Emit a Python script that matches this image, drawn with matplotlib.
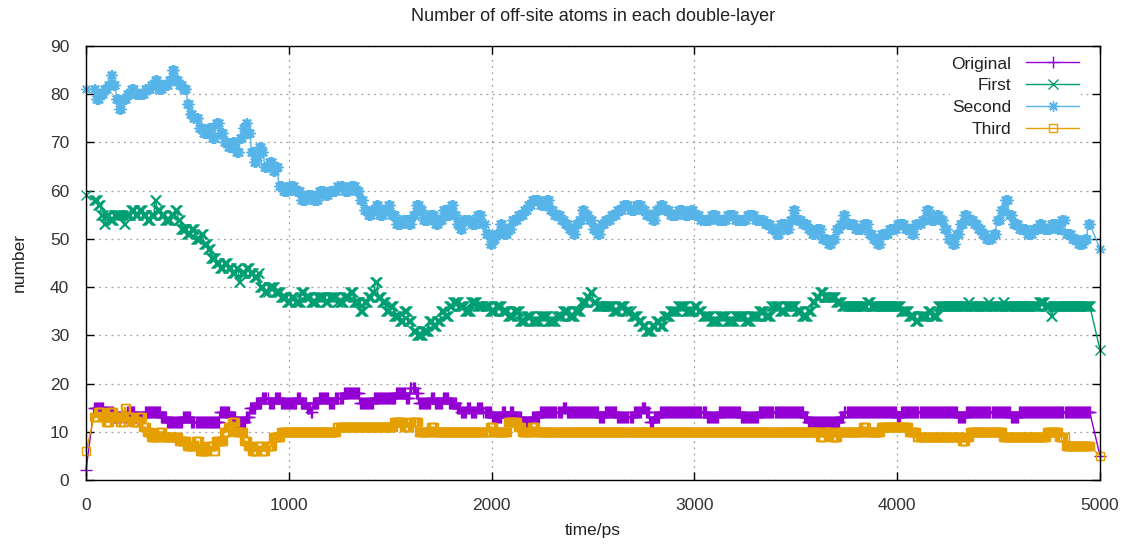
import numpy as np
import matplotlib
matplotlib.use("Agg")
import matplotlib.pyplot as plt

plt.rcParams['font.family'] = ['Liberation Sans', 'DejaVu Sans']

# Sampling times of the trajectory (ps)
t_first = 0
t_dense_start, t_dense_stop, t_step = 40, 4950, 5
t_last = 5000

# Each series: (time from which value holds, value)
original = [(0, 2), (40, 15), (90, 14), (140, 13), (200, 14), (240, 13), (290, 14), (370, 13),
            (400, 12), (480, 13), (520, 12), (660, 14), (710, 13), (740, 12), (790, 13),
            (810, 15), (840, 16), (870, 17), (900, 16), (930, 17), (960, 16), (1040, 17),
            (1060, 16), (1090, 15), (1110, 14), (1120, 16), (1150, 17), (1200, 16), (1230, 17),
            (1270, 18), (1350, 16), (1420, 17), (1530, 18), (1580, 17), (1600, 19), (1625, 18),
            (1640, 16), (1700, 17), (1720, 16), (1760, 17), (1790, 16), (1830, 15), (1850, 14),
            (1880, 15), (1900, 14), (1930, 15), (1960, 14), (2000, 13), (2050, 14), (2070, 13),
            (2090, 14), (2110, 13), (2150, 12), (2200, 13), (2240, 14), (2350, 15), (2370, 14),
            (2530, 13), (2560, 14), (2620, 13), (2700, 14), (2740, 15), (2760, 14), (2780, 12),
            (2800, 13), (2830, 14), (3060, 13), (3120, 14), (3230, 13), (3320, 14), (3540, 13),
            (3560, 12), (3720, 13), (3740, 14), (4000, 13), (4020, 14), (4300, 13), (4340, 14),
            (4560, 13), (4600, 14), (5000, 5)]

first = [(0, 59), (40, 58), (60, 57), (75, 55), (90, 53), (100, 55), (120, 54), (140, 55),
         (185, 53), (195, 55), (220, 56), (240, 55), (260, 56), (280, 55), (300, 54), (320, 55),
         (340, 58), (350, 56), (370, 55), (390, 54), (420, 55), (440, 56), (455, 54), (470, 52),
         (500, 51), (520, 52), (540, 50), (565, 51), (580, 49), (600, 48), (615, 46), (640, 45),
         (660, 44), (680, 45), (700, 44), (720, 43), (740, 44), (755, 41), (765, 43), (790, 44),
         (810, 43), (830, 42), (850, 43), (860, 40), (880, 39), (900, 40), (930, 39), (960, 38),
         (990, 37), (1010, 38), (1030, 37), (1060, 39), (1080, 38), (1110, 37), (1140, 38),
         (1180, 37), (1200, 38), (1240, 37), (1270, 38), (1300, 39), (1320, 37), (1350, 35),
         (1370, 37), (1390, 38), (1410, 39), (1425, 41), (1440, 38), (1460, 37), (1480, 35),
         (1500, 36), (1520, 34), (1550, 33), (1570, 35), (1590, 33), (1610, 31), (1630, 30),
         (1660, 31), (1690, 33), (1710, 32), (1730, 33), (1750, 35), (1770, 34), (1790, 36),
         (1810, 37), (1840, 36), (1870, 35), (1900, 37), (1930, 36), (1990, 35), (2020, 36),
         (2050, 35), (2080, 34), (2110, 35), (2140, 33), (2170, 34), (2200, 33), (2240, 34),
         (2280, 33), (2320, 34), (2350, 35), (2380, 34), (2410, 35), (2440, 37), (2470, 38),
         (2485, 39), (2500, 37), (2520, 36), (2600, 35), (2630, 36), (2660, 35), (2690, 34),
         (2720, 33), (2740, 32), (2760, 31), (2790, 32), (2810, 33), (2830, 32), (2850, 34),
         (2880, 35), (2920, 36), (2960, 35), (3000, 36), (3020, 35), (3040, 34), (3080, 33),
         (3120, 34), (3160, 33), (3200, 34), (3250, 33), (3280, 34), (3320, 35), (3350, 34),
         (3380, 36), (3420, 35), (3450, 36), (3500, 35), (3530, 34), (3560, 35), (3580, 37),
         (3600, 38), (3620, 39), (3640, 38), (3700, 37), (3730, 36), (3850, 37), (3870, 36),
         (4020, 35), (4060, 34), (4090, 33), (4110, 34), (4150, 35), (4170, 34), (4200, 36),
         (4350, 37), (4360, 36), (4450, 37), (4460, 36), (4520, 37), (4530, 36), (4700, 37),
         (4730, 36), (4760, 34), (4770, 36), (5000, 27)]

second = [(0, 81), (50, 79), (70, 80), (90, 81), (110, 82), (125, 84), (135, 82), (150, 79),
          (165, 77), (180, 79), (200, 80), (220, 81), (240, 80), (290, 81), (320, 82), (340, 83),
          (355, 81), (380, 82), (410, 83), (425, 85), (440, 83), (460, 82), (480, 81), (500, 78),
          (515, 76), (530, 75), (555, 73), (575, 72), (600, 73), (620, 71), (640, 74), (660, 72),
          (680, 70), (700, 69), (720, 70), (740, 68), (760, 71), (775, 73), (790, 74), (800, 72),
          (815, 68), (830, 66), (845, 67), (855, 69), (870, 68), (880, 65), (900, 66), (920, 64),
          (935, 65), (950, 61), (970, 60), (1000, 61), (1030, 60), (1060, 58), (1090, 59),
          (1120, 58), (1150, 60), (1180, 59), (1200, 60), (1240, 61), (1270, 60), (1300, 61),
          (1330, 60), (1350, 58), (1370, 56), (1390, 55), (1410, 56), (1430, 57), (1445, 55),
          (1470, 56), (1490, 57), (1505, 55), (1530, 53), (1560, 54), (1590, 53), (1610, 55),
          (1625, 57), (1645, 56), (1660, 54), (1690, 55), (1720, 53), (1740, 54), (1760, 56),
          (1780, 55), (1800, 57), (1815, 55), (1830, 53), (1845, 52), (1860, 54), (1900, 53),
          (1930, 55), (1955, 53), (1970, 51), (1990, 49), (2005, 50), (2020, 51), (2040, 53),
          (2055, 51), (2080, 52), (2100, 54), (2130, 55), (2160, 56), (2180, 57), (2200, 58),
          (2240, 57), (2270, 58), (2290, 56), (2310, 55), (2340, 54), (2360, 53), (2380, 52),
          (2400, 51), (2415, 53), (2430, 54), (2445, 56), (2460, 55), (2480, 54), (2500, 52),
          (2520, 51), (2540, 53), (2560, 54), (2590, 55), (2620, 56), (2650, 57), (2680, 56),
          (2710, 57), (2740, 56), (2760, 55), (2790, 54), (2810, 56), (2830, 57), (2850, 56),
          (2880, 55), (2920, 56), (2950, 55), (2980, 56), (3000, 55), (3030, 54), (3080, 55),
          (3110, 54), (3160, 55), (3200, 54), (3260, 55), (3300, 54), (3350, 53), (3380, 52),
          (3400, 51), (3420, 53), (3450, 52), (3470, 54), (3485, 56), (3500, 54), (3530, 53),
          (3560, 52), (3580, 51), (3600, 52), (3630, 50), (3660, 49), (3680, 50), (3700, 52),
          (3720, 53), (3735, 55), (3750, 53), (3790, 52), (3830, 53), (3860, 51), (3880, 50),
          (3900, 49), (3920, 51), (3960, 52), (4000, 53), (4040, 52), (4070, 51), (4090, 53),
          (4120, 54), (4140, 56), (4160, 54), (4190, 55), (4210, 54), (4230, 52), (4250, 50),
          (4270, 49), (4290, 51), (4310, 53), (4330, 55), (4350, 54), (4380, 53), (4400, 52),
          (4420, 51), (4440, 50), (4470, 51), (4490, 54), (4510, 56), (4530, 58), (4550, 55),
          (4570, 53), (4600, 52), (4640, 51), (4670, 52), (4700, 53), (4720, 52), (4760, 53),
          (4790, 52), (4810, 54), (4830, 51), (4860, 50), (4890, 49), (4920, 50), (4940, 53),
          (4955, 50), (5000, 48)]

third = [(0, 6), (40, 13), (60, 14), (80, 13), (100, 12), (120, 14), (140, 13), (170, 12),
         (190, 15), (200, 13), (230, 12), (260, 13), (280, 11), (300, 10), (320, 9), (360, 10),
         (380, 9), (460, 8), (500, 7), (540, 8), (560, 6), (600, 7), (630, 6), (640, 8),
         (680, 10), (700, 11), (720, 12), (740, 10), (780, 8), (800, 7), (820, 6), (850, 7),
         (870, 6), (890, 7), (920, 9), (960, 10), (1240, 11), (1520, 12), (1570, 11),
         (1600, 12), (1640, 10), (1700, 11), (1720, 10), (1990, 11), (2010, 10), (2080, 12),
         (2130, 11), (2150, 10), (2200, 11), (2220, 10), (3620, 9), (3640, 10), (3680, 9),
         (3710, 10), (3830, 11), (3850, 10), (3920, 11), (4060, 10), (4100, 9), (4320, 8),
         (4340, 9), (4360, 10), (4520, 9), (4740, 10), (4800, 9), (4830, 7), (5000, 5)]

labels = ["Original", "First", "Second", "Third"]
colors = ["#9400d3", "#009e73", "#56b4e9", "#e69f00"]

times = np.concatenate([[t_first],
                        np.arange(t_dense_start, t_dense_stop + 1, t_step),
                        [t_last]])


def sample(breaks, t):
    bt = np.array([b[0] for b in breaks])
    bv = np.array([b[1] for b in breaks])
    idx = np.searchsorted(bt, t, side="right") - 1
    return bv[idx]


# gnuplot-style asterisk: plus and cross overlaid
star = (8, 2, 0)
markers = [dict(marker="+", ms=8, mew=1.0),
           dict(marker="x", ms=6.5, mew=1.0),
           dict(marker=star, ms=7.5, mew=1.0),
           dict(marker="s", ms=5.5, mew=1.0, mfc="none")]

fig = plt.figure(figsize=(11.24, 5.48), dpi=100)
ax = fig.add_axes([86 / 1124, 1 - 480 / 548, (1100 - 86) / 1124, (480 - 46) / 548])

for breaks, lab, col, mk in zip([original, first, second, third], labels, colors, markers):
    ax.plot(times, sample(breaks, times), color=col, lw=1.0, label=lab, clip_on=False,
            mec=col, **mk)

ax.set_xlim(0, 5000)
ax.set_ylim(0, 90)
ax.set_xticks(np.arange(0, 5001, 1000))
ax.set_yticks(np.arange(0, 91, 10))
ax.tick_params(direction="in", top=True, right=True, length=6, width=1,
               labelsize=12.5, colors="#000000", labelcolor="#333333")
ax.tick_params(axis="x", pad=13)
ax.tick_params(axis="y", pad=12)
ax.grid(True, color="#a0a0a0", lw=0.9, ls=(0, (1.5, 3.5)))
for s in ax.spines.values():
    s.set_linewidth(1.0)

ax.set_title("Number of off-site atoms in each double-layer", fontsize=13,
             color="#222222", pad=18)
ax.set_xlabel("time/ps", fontsize=12.5, color="#222222", labelpad=7)
ax.set_ylabel("number", fontsize=12.5, color="#222222", labelpad=17)

leg = ax.legend(loc="upper right", bbox_to_anchor=(0.99, 1.0), markerfirst=False,
                numpoints=1, handlelength=3.05, handletextpad=0.86, labelspacing=0.38,
                fontsize=12.5, frameon=True, fancybox=False, borderpad=0.1)
leg.get_frame().set_edgecolor("none")
leg.get_frame().set_facecolor("white")
leg.get_frame().set_alpha(1)
for t in leg.get_texts():
    t.set_color("#222222")

fig.savefig("out.png", dpi=100)
